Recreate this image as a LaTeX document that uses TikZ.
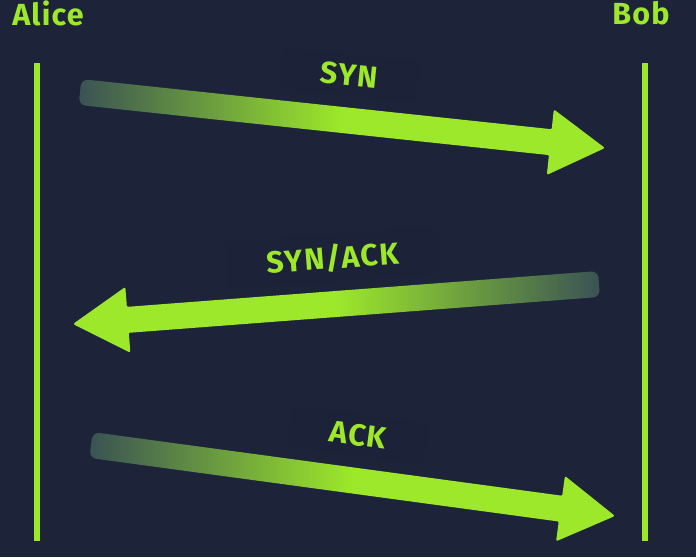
\documentclass[tikz,border=0pt]{standalone}
\usepackage{fontspec}
\setmainfont{Fira Sans}
\newfontfamily\labelfont[LetterSpace=4]{Fira Sans}
\usetikzlibrary{calc}
\definecolor{bg}{RGB}{29,36,57}
\definecolor{lime}{RGB}{157,232,42}
\definecolor{tailc}{RGB}{58,82,84}
\definecolor{lblbg}{RGB}{28,34,55}
\tikzset{
  lifeline/.style={draw=lime, line width=5.5pt},
  actor/.style={text=lime, font=\labelfont\bfseries\fontsize{30.5}{33}\selectfont, inner sep=0pt},
  msg/.style={text=lime, font=\labelfont\bfseries\fontsize{30.5}{33}\selectfont, fill=lblbg, rounded corners=8pt, inner xsep=40pt, inner ysep=9pt},
  fwd/.style={left color=tailc, right color=lime, middle color=lime},
  bwd/.style={left color=lime, right color=tailc, middle color=lime},
}
\newcommand\msgarrow[3]{%
  \coordinate (hb) at ($(#2)!55pt!(#1)$);
  \path[#3] (#1) [rounded corners=7pt] -- ($(#1)!13pt!90:(#2)$) [rounded corners=1pt] -- ($(hb)!13pt!90:(#2)$) [rounded corners=2pt] -- ($(hb)!33pt!90:(#2)$) -- (#2) -- ($(hb)!33pt!-90:(#2)$) [rounded corners=1pt] -- ($(hb)!13pt!-90:(#2)$) [rounded corners=7pt] -- ($(#1)!13pt!-90:(#2)$) -- cycle;
}
\begin{document}
\begin{tikzpicture}[x=1pt, y=-1pt]
  \fill[bg] (0,0) rectangle (696,557);
  \useasboundingbox (0,0) rectangle (696,557);
  % actors
  \node[actor] (alice) at (48,13) {Alice};
  \node[actor] (bob) at (641,13) {Bob};
  % lifelines
  \coordinate (atop) at (37,63);
  \coordinate (abot) at (37,541);
  \coordinate (btop) at (645,63);
  \coordinate (bbot) at (645,541);
  \draw[lifeline] (atop) -- (abot);
  \draw[lifeline] (btop) -- (bbot);
  % message labels (boxes sit beneath the arrows)
  \node[msg, rotate=-6] (syn) at (349,75) {SYN};
  \node[msg, rotate=4.4] (synack) at (333,258) {SYN/ACK};
  \node[msg, rotate=-7.7] (ack) at (358,435) {ACK};
  % messages
  \coordinate (s1) at (80,92);
  \coordinate (e1) at (605,148);
  \coordinate (s2) at (599,284);
  \coordinate (e2) at (73,324);
  \coordinate (s3) at (91,445);
  \coordinate (e3) at (615,516);
  \msgarrow{s1}{e1}{fwd}
  \msgarrow{s2}{e2}{bwd}
  \msgarrow{s3}{e3}{fwd}
\end{tikzpicture}
\end{document}
